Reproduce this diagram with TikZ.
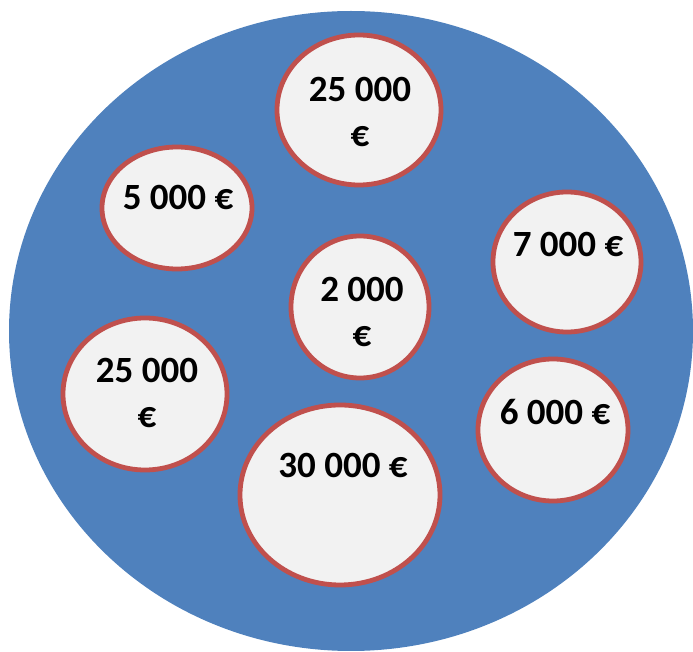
\documentclass[tikz,border=0pt]{standalone}
\usepackage{fontspec}
\setmainfont{Carlito}
\usepackage{tikz}
\usetikzlibrary{shapes.geometric}

\definecolor{potblue}{HTML}{4F81BD}
\definecolor{coinred}{HTML}{C0504D}
\definecolor{coinfill}{HTML}{F2F2F2}

\begin{document}
\begin{tikzpicture}[x=0.5pt, y=-0.5pt,
    coin/.style={ellipse, draw=coinred, fill=coinfill, line width=2.4pt, inner sep=0pt},
    amount/.style={inner sep=0pt, align=center, font=\fontsize{18.5}{22.5}\selectfont\bfseries}]
    \useasboundingbox (0,0) rectangle (693,652);

    % the big pot
    \fill[potblue] (351,331) ellipse [x radius=342, y radius=320];

    % coins
    \node[coin, minimum width=82pt, minimum height=75pt] (c25top) at (359,110) {};
    \node[coin, minimum width=75pt, minimum height=61pt] (c5) at (177,208) {};
    \node[coin, minimum width=74pt, minimum height=70pt] (c7) at (567,262) {};
    \node[coin, minimum width=69pt, minimum height=71pt] (c2) at (360,307) {};
    \node[coin, minimum width=82pt, minimum height=76pt] (c25left) at (145,394) {};
    \node[coin, minimum width=75pt, minimum height=71pt] (c6) at (553,430) {};
    \node[coin, minimum width=100pt, minimum height=90pt] (c30) at (340,495) {};

    % amounts
    \node[amount] (t25top) at (360,112) {25 000\\€};
    \node[amount] (t5) at (178,197) {5 000 €};
    \node[amount] (t7) at (568,244) {7 000 €};
    \node[amount] (t2) at (362,312) {2 000\\€};
    \node[amount] (t25left) at (147,393) {25 000\\€};
    \node[amount] (t6) at (555,412) {6 000 €};
    \node[amount] (t30) at (343,465) {30 000 €};
\end{tikzpicture}
\end{document}
